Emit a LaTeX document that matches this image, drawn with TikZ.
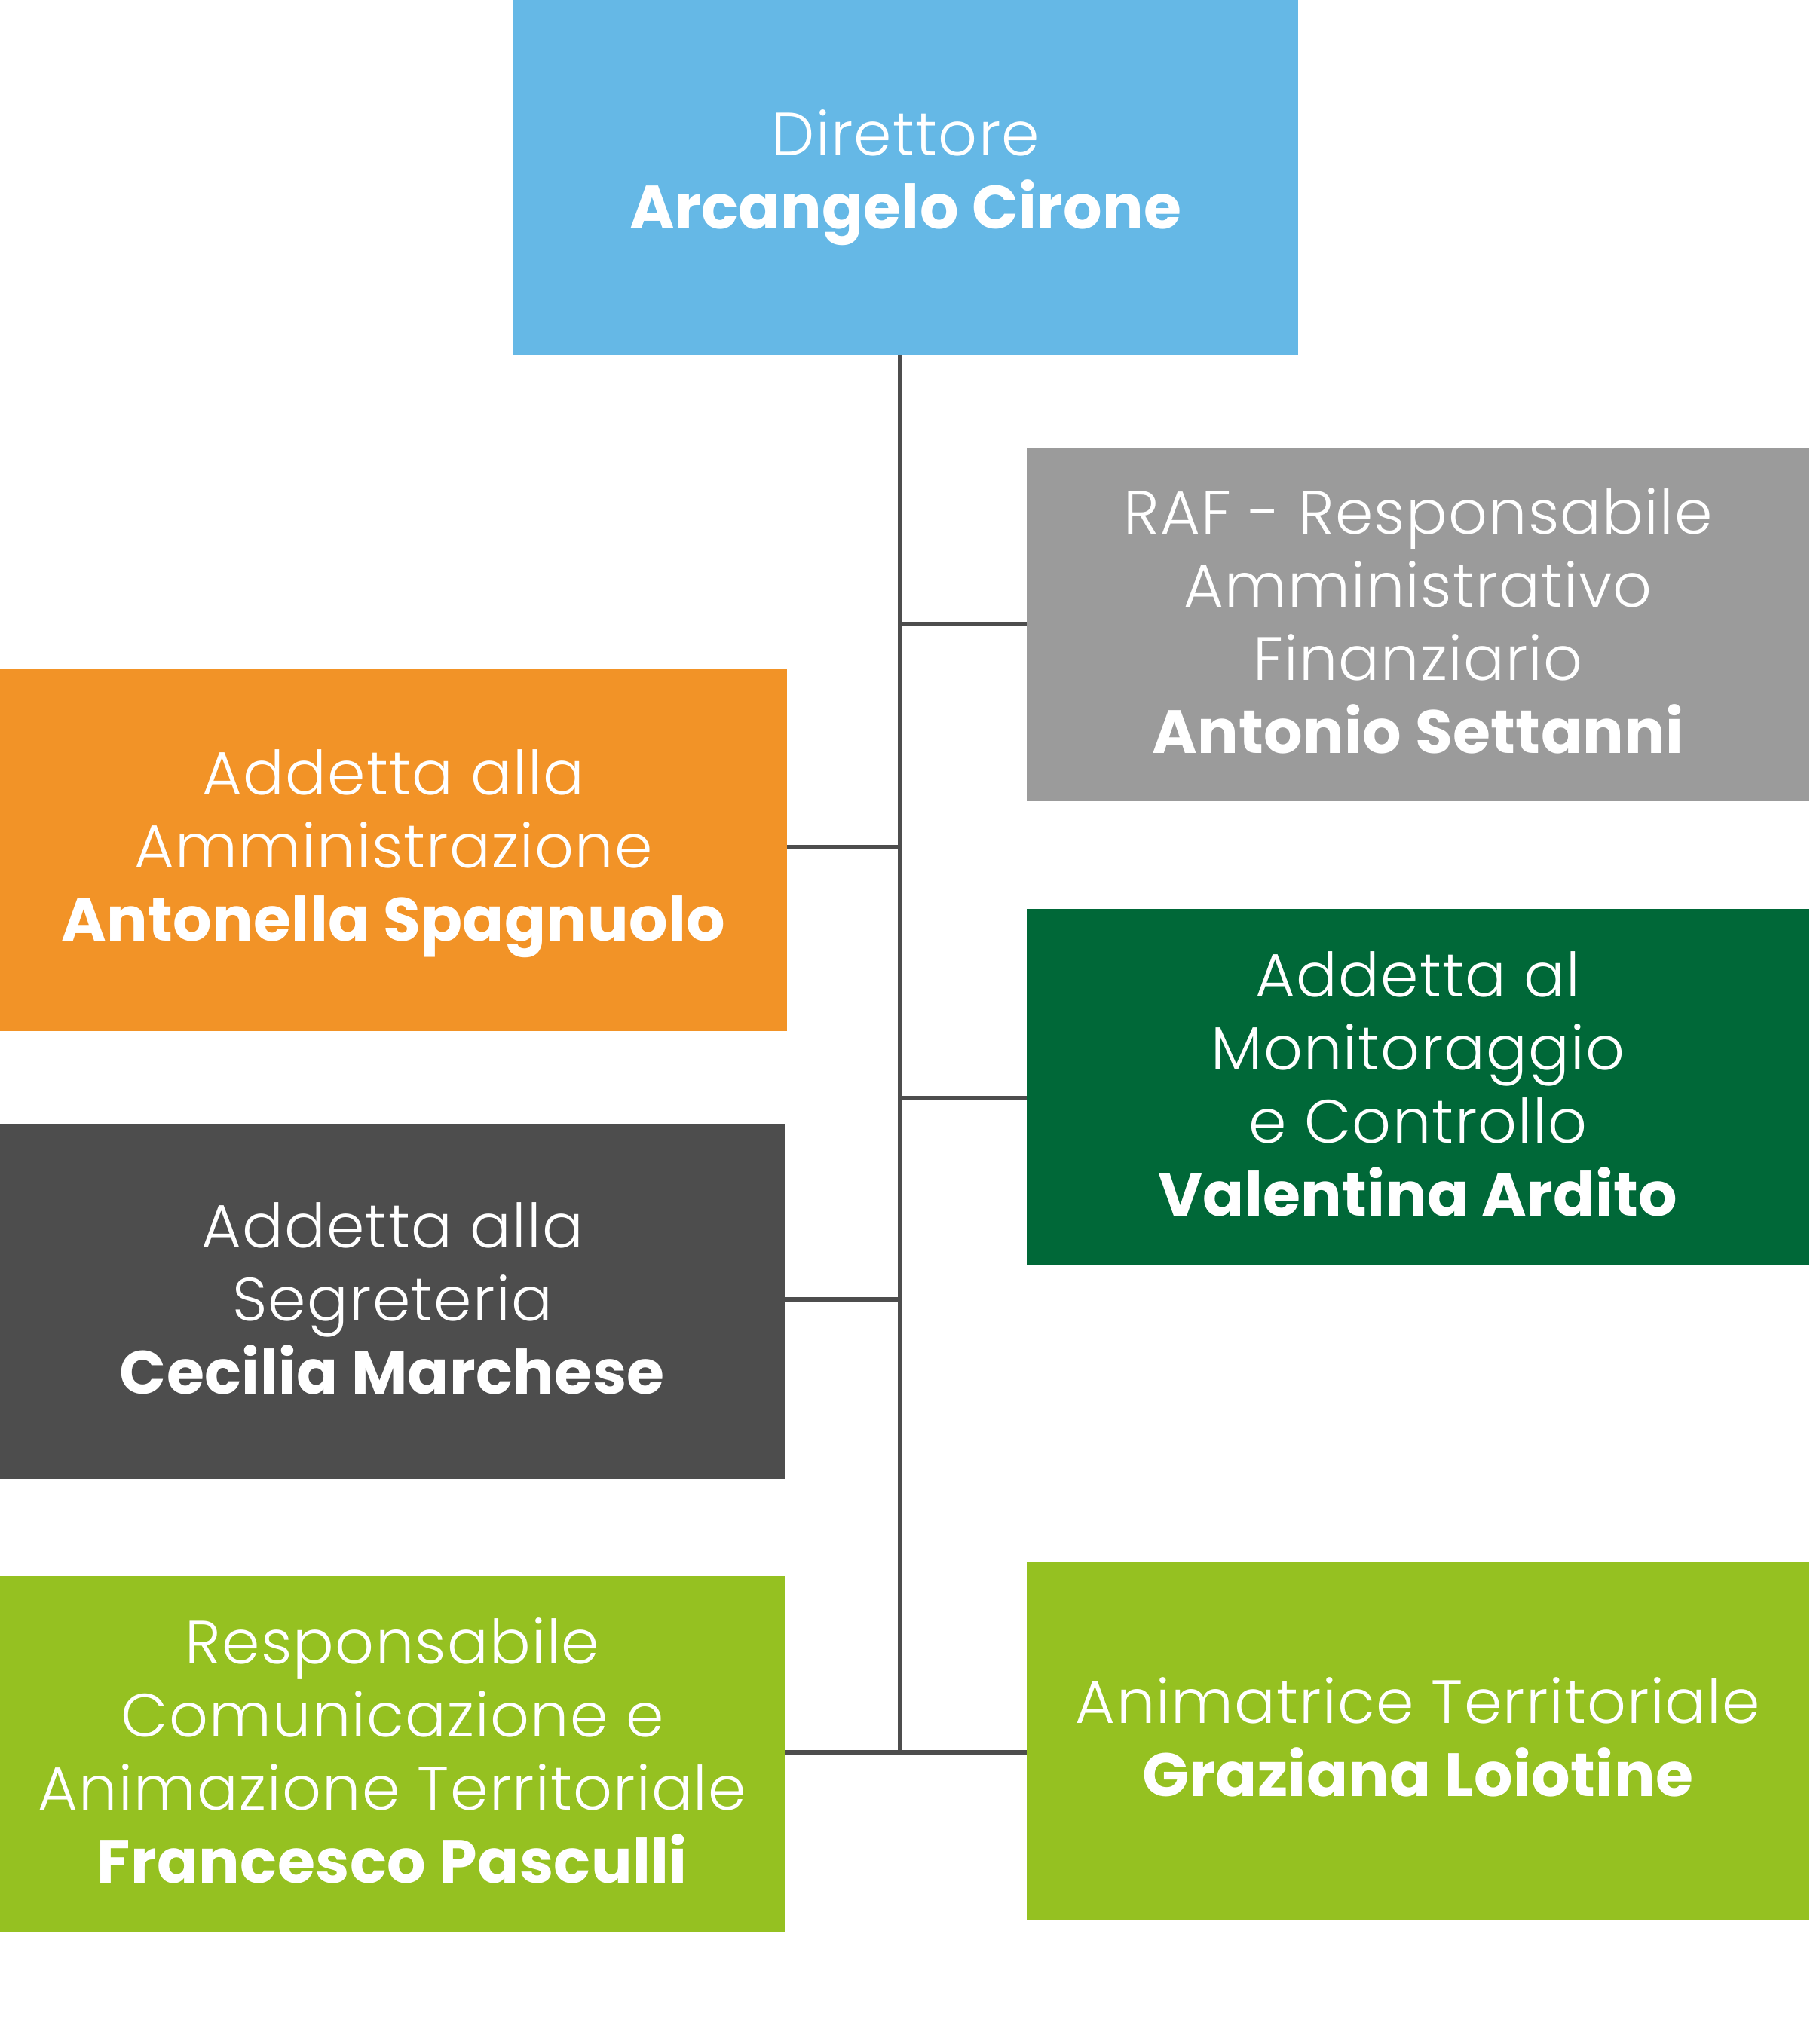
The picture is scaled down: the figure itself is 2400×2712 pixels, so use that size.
\documentclass[tikz,border=0pt]{standalone}
\usepackage{fontspec}
\setmainfont{Poppins}[UprightFont=* Light, BoldFont=* Bold,
  UprightFeatures={LetterSpace=1.6}, BoldFeatures={LetterSpace=0.5}]
\definecolor{cblue}{HTML}{65B8E6}
\definecolor{cgrey}{HTML}{9B9B9B}
\definecolor{corange}{HTML}{F29327}
\definecolor{cdgreen}{HTML}{006838}
\definecolor{cdgrey}{HTML}{4D4D4D}
\definecolor{clgreen}{HTML}{95C121}
\definecolor{cline}{HTML}{4D4D4D}
\begin{document}
\begin{tikzpicture}[x=0.5pt,y=-0.5pt,
  orgbox/.style={rectangle, inner sep=0pt, outer sep=0pt},
  orgtext/.style={inner sep=0pt, text=white, align=center,
    font=\fontsize{40.5}{48.5}\selectfont},
  conn/.style={draw=cline, line width=3pt}]
\useasboundingbox (0,0) rectangle (2400,2712);
\node[orgbox, fill=cblue, minimum width=520.5pt, minimum height=235.5pt] (dir) at (1201.5,235.5) {};
\node[orgtext] (dirt) at (dir.center) {Direttore\\\textbf{Arcangelo Cirone}};
\node[orgbox, fill=cgrey, minimum width=519pt, minimum height=234.5pt] (raf) at (1881,828.5) {};
\node[orgtext, yshift=2.5pt] (raft) at (raf.center)
  {RAF - Responsabile\\Amministrativo\\Finanziario\\\textbf{Antonio Settanni}};
\node[orgbox, fill=corange, minimum width=522pt, minimum height=240pt] (amm) at (522,1128) {};
\node[orgtext, yshift=-2.5pt] (ammt) at (amm.center)
  {Addetta alla\\Amministrazione\\\textbf{Antonella Spagnuolo}};
\node[orgbox, fill=cdgreen, minimum width=519pt, minimum height=236.5pt] (mon) at (1881,1442.5) {};
\node[orgtext, yshift=2pt] (mont) at (mon.center)
  {Addetta al\\Monitoraggio\\e Controllo\\\textbf{Valentina Ardito}};
\node[orgbox, fill=cdgrey, minimum width=520.5pt, minimum height=236pt] (seg) at (520.5,1727) {};
\node[orgtext, yshift=2pt] (segt) at (seg.center)
  {Addetta alla\\Segreteria\\\textbf{Cecilia Marchese}};
\node[orgbox, fill=clgreen, minimum width=520.5pt, minimum height=236.5pt] (com) at (520.5,2327.5) {};
\node[orgtext, yshift=2.5pt] (comt) at (com.center)
  {Responsabile\\Comunicazione e\\Animazione Territoriale\\\textbf{Francesco Pasculli}};
\node[orgbox, fill=clgreen, minimum width=519pt, minimum height=237pt] (ani) at (1881,2310) {};
\node[orgtext, yshift=2.5pt] (anit) at (ani.center)
  {Animatrice Territoriale\\\textbf{Graziana Loiotine}};
\coordinate (top) at (1194,471);
\coordinate (bot) at (1194,2325);
\coordinate (jraf) at (1194,828);
\coordinate (jamm) at (1194,1124);
\coordinate (jmon) at (1194,1457);
\coordinate (jseg) at (1194,1724);
\draw[conn] (top) -- (bot);
\draw[conn] (jraf) -- (jraf -| raf.west);
\draw[conn] (jamm) -- (jamm -| amm.east);
\draw[conn] (jmon) -- (jmon -| mon.west);
\draw[conn] (jseg) -- (jseg -| seg.east);
\draw[conn] (bot -| com.east) -- (bot -| ani.west);
\end{tikzpicture}
\end{document}
